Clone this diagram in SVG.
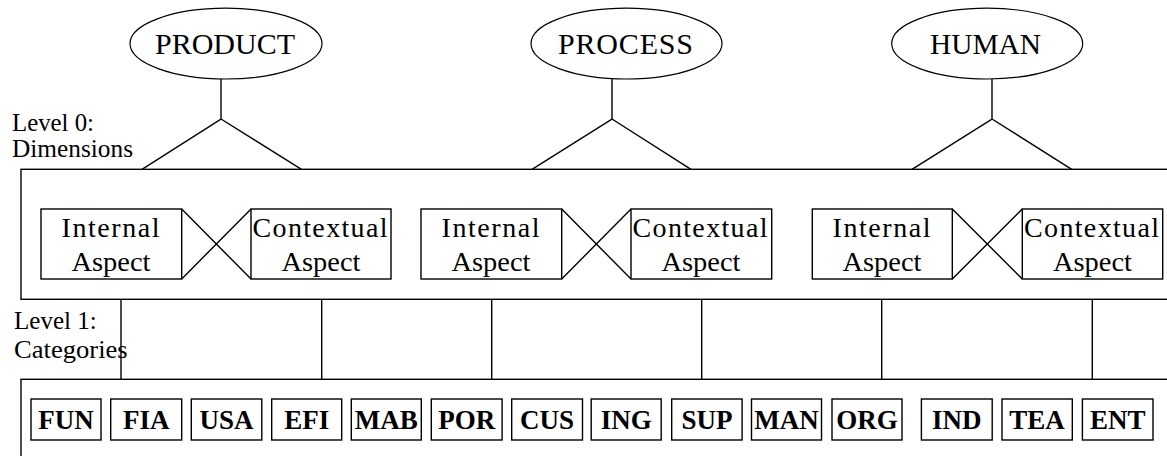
<svg xmlns="http://www.w3.org/2000/svg" width="1167" height="456" viewBox="0 0 1167 456">
<style>
.ln{stroke:#000;stroke-width:1.4;fill:none}
.bx{stroke:#000;stroke-width:1.4;fill:#fff}
.el{stroke:#000;stroke-width:1.2;fill:#fff}
text{font-family:'Liberation Serif','Times New Roman',serif;fill:#000}
.dim{font-size:30px;text-anchor:middle}
.asp{font-size:28px;text-anchor:middle}
.lvl{font-size:26px}
.cat{font-size:27px;font-weight:bold;text-anchor:middle}
</style>
<rect width="1167" height="456" fill="#fff"/>
<g id="level0-frame"><rect class="ln" x="21" y="169.3" width="1160" height="130"/></g>
<g id="level1-frame"><rect class="ln" x="21" y="379.3" width="1160" height="90"/></g>
<g id="connectors">
<path class="ln" d="M221,79V119L142,169.3M221,119L301.5,169.3"/>
<path class="ln" d="M612,79V119L532,169.3M612,119L691,169.3"/>
<path class="ln" d="M992,79V119L912,169.3M992,119L1071.7,169.3"/>
<path class="ln" d="M181.7,209L251,279M181.7,279L251,209"/>
<path class="ln" d="M561.7,209L631,279M561.7,279L631,209"/>
<path class="ln" d="M952.3,209L1022.3,279M952.3,279L1022.3,209"/>
<path class="ln" d="M121,299.3V379.3M321.7,299.3V379.3M491.7,299.3V379.3M701.7,299.3V379.3M881.7,299.3V379.3M1092.3,299.3V379.3"/>
</g>
<g id="product"><ellipse class="el" cx="226" cy="43.6" rx="96" ry="35.4"/><text class="dim" x="225" y="54.3" textLength="140" lengthAdjust="spacing">PRODUCT</text></g>
<g id="process"><ellipse class="el" cx="626.5" cy="43.6" rx="95.5" ry="35.4"/><text class="dim" x="625.5" y="54.3" textLength="135" lengthAdjust="spacing">PROCESS</text></g>
<g id="human"><ellipse class="el" cx="987.2" cy="43.6" rx="95.5" ry="35.4"/><text class="dim" x="985.5" y="54.3" textLength="111" lengthAdjust="spacingAndGlyphs">HUMAN</text></g>
<g id="label-level0"><text class="lvl" x="12" y="131" textLength="82" lengthAdjust="spacingAndGlyphs">Level 0:</text><text class="lvl" x="12" y="157" textLength="121" lengthAdjust="spacingAndGlyphs">Dimensions</text></g>
<g id="label-level1"><text class="lvl" x="14" y="329" textLength="82.7" lengthAdjust="spacingAndGlyphs">Level 1:</text><text class="lvl" x="14" y="358" textLength="113.7" lengthAdjust="spacingAndGlyphs">Categories</text></g>
<g id="product-internal"><rect class="bx" x="41" y="209" width="140.7" height="70"/><text class="asp" x="110.5" y="236.7" textLength="98" lengthAdjust="spacing">Internal</text><text class="asp" x="111" y="270.7" textLength="79" lengthAdjust="spacingAndGlyphs">Aspect</text></g>
<g id="product-contextual"><rect class="bx" x="251" y="209" width="140" height="70"/><text class="asp" x="320" y="236.7" textLength="135" lengthAdjust="spacing">Contextual</text><text class="asp" x="321" y="270.7" textLength="79" lengthAdjust="spacingAndGlyphs">Aspect</text></g>
<g id="process-internal"><rect class="bx" x="421" y="209" width="140.7" height="70"/><text class="asp" x="490.5" y="236.7" textLength="98" lengthAdjust="spacing">Internal</text><text class="asp" x="491" y="270.7" textLength="79" lengthAdjust="spacingAndGlyphs">Aspect</text></g>
<g id="process-contextual"><rect class="bx" x="631" y="209" width="140.7" height="70"/><text class="asp" x="700" y="236.7" textLength="135" lengthAdjust="spacing">Contextual</text><text class="asp" x="701" y="270.7" textLength="79" lengthAdjust="spacingAndGlyphs">Aspect</text></g>
<g id="human-internal"><rect class="bx" x="812.3" y="209" width="140" height="70"/><text class="asp" x="881.5" y="236.7" textLength="98" lengthAdjust="spacing">Internal</text><text class="asp" x="882" y="270.7" textLength="79" lengthAdjust="spacingAndGlyphs">Aspect</text></g>
<g id="human-contextual"><rect class="bx" x="1022.3" y="209" width="140.4" height="70"/><text class="asp" x="1091.5" y="236.7" textLength="135" lengthAdjust="spacing">Contextual</text><text class="asp" x="1092.5" y="270.7" textLength="79" lengthAdjust="spacingAndGlyphs">Aspect</text></g>
<g id="cat-FUN"><rect class="bx" x="31" y="399" width="70" height="41"/><text class="cat" x="66" y="428.5">FUN</text></g>
<g id="cat-FIA"><rect class="bx" x="110.7" y="399" width="71" height="41"/><text class="cat" x="146.2" y="428.5">FIA</text></g>
<g id="cat-USA"><rect class="bx" x="191.3" y="399" width="70.5" height="41"/><text class="cat" x="226.5" y="428.5">USA</text></g>
<g id="cat-EFI"><rect class="bx" x="271.7" y="399" width="70" height="41"/><text class="cat" x="306.7" y="428.5">EFI</text></g>
<g id="cat-MAB"><rect class="bx" x="351.3" y="399" width="70" height="41"/><text class="cat" x="386.3" y="428.5">MAB</text></g>
<g id="cat-POR"><rect class="bx" x="431.3" y="399" width="70.8" height="41"/><text class="cat" x="466.7" y="428.5">POR</text></g>
<g id="cat-CUS"><rect class="bx" x="511.7" y="399" width="70.8" height="41"/><text class="cat" x="547.1" y="428.5">CUS</text></g>
<g id="cat-ING"><rect class="bx" x="591.2" y="399" width="70" height="41"/><text class="cat" x="626.2" y="428.5">ING</text></g>
<g id="cat-SUP"><rect class="bx" x="671.7" y="399" width="70.4" height="41"/><text class="cat" x="706.9" y="428.5">SUP</text></g>
<g id="cat-MAN"><rect class="bx" x="751.5" y="399" width="70" height="41"/><text class="cat" x="786.5" y="428.5">MAN</text></g>
<g id="cat-ORG"><rect class="bx" x="832" y="399" width="70" height="41"/><text class="cat" x="867" y="428.5">ORG</text></g>
<g id="cat-IND"><rect class="bx" x="921.4" y="399" width="70.8" height="41"/><text class="cat" x="956.8" y="428.5">IND</text></g>
<g id="cat-TEA"><rect class="bx" x="1002" y="399" width="70.3" height="41"/><text class="cat" x="1037.1" y="428.5">TEA</text></g>
<g id="cat-ENT"><rect class="bx" x="1082.4" y="399" width="70.6" height="41"/><text class="cat" x="1117.7" y="428.5">ENT</text></g>
</svg>
